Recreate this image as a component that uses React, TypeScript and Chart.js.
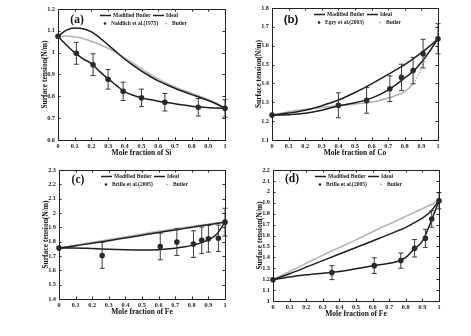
import React, { useEffect, useRef } from "react";
import { Chart, registerables } from "chart.js";
Chart.register(...registerables);

const SERIF = '"Liberation Serif", "Times New Roman", serif';
const SANS = '"Liberation Sans", Arial, sans-serif';
const DARK = "#1e1e1e";
const GRAY = "#b4b4b4";

const xTickValues = [0, 0.1, 0.2, 0.3, 0.4, 0.5, 0.6, 0.7, 0.8, 0.9, 1];
const xTickLabels = ["0", "0.1", "0.2", "0.3", "0.4", "0.5", "0.6", "0.7", "0.8", "0.9", "1"];

// ---- Panel (a): Si ----
const aCurveX = [0, 0.05, 0.1, 0.15, 0.2, 0.25, 0.3, 0.35, 0.4, 0.45, 0.5, 0.55, 0.6, 0.65, 0.7, 0.75, 0.8, 0.85, 0.9, 0.95, 1];
const aModified = [1.075, 1.035, 1.0, 0.972, 0.95, 0.913, 0.88, 0.85, 0.82, 0.805, 0.793, 0.785, 0.778, 0.772, 0.766, 0.76, 0.755, 0.751, 0.748, 0.746, 0.745];
const aIdeal = [1.075, 1.103, 1.113, 1.11, 1.095, 1.068, 1.036, 1.003, 0.97, 0.942, 0.915, 0.892, 0.871, 0.853, 0.837, 0.822, 0.808, 0.795, 0.781, 0.765, 0.745];
const aButler = [1.075, 1.076, 1.073, 1.065, 1.052, 1.037, 1.02, 0.999, 0.976, 0.951, 0.926, 0.902, 0.88, 0.86, 0.843, 0.828, 0.814, 0.8, 0.786, 0.768, 0.745];
const aExpX = [0, 0.11, 0.21, 0.3, 0.39, 0.5, 0.64, 0.84, 1];
const aExpY = [1.075, 0.997, 0.945, 0.878, 0.823, 0.793, 0.773, 0.75, 0.745];
const aExpErr = [0, 0.05, 0.05, 0.045, 0.042, 0.04, 0.04, 0.04, 0.04];
const aYTicks = [0.6, 0.7, 0.8, 0.9, 1, 1.1, 1.2];
const aYLabels = ["0.6", "0.7", "0.8", "0.9", "1", "1.1", "1.2"];

// ---- Panel (b): Co ----
const bCurveX = [0, 0.1, 0.2, 0.3, 0.4, 0.5, 0.6, 0.7, 0.75, 0.8, 0.85, 0.9, 0.95, 1];
const bModified = [1.232, 1.234, 1.242, 1.258, 1.28, 1.297, 1.322, 1.365, 1.395, 1.43, 1.463, 1.512, 1.572, 1.637];
const bIdeal = [1.232, 1.243, 1.258, 1.282, 1.312, 1.352, 1.398, 1.448, 1.474, 1.5, 1.53, 1.563, 1.598, 1.637];
const bButler = [1.232, 1.25, 1.263, 1.273, 1.282, 1.291, 1.301, 1.322, 1.337, 1.357, 1.4, 1.48, 1.57, 1.637];
const bExpX = [0, 0.4, 0.57, 0.71, 0.78, 0.85, 0.91, 1];
const bExpY = [1.232, 1.284, 1.31, 1.372, 1.432, 1.468, 1.558, 1.637];
const bExpErr = [0, 0.066, 0.068, 0.068, 0.07, 0.07, 0.076, 0.08];
const bYTicks = [1.1, 1.2, 1.3, 1.4, 1.5, 1.6, 1.7, 1.8];
const bYLabels = ["1.1", "1.2", "1.3", "1.4", "1.5", "1.6", "1.7", "1.8"];

// ---- Panel (c): Fe ----
const cCurveX = [0, 0.1, 0.2, 0.3, 0.4, 0.5, 0.6, 0.7, 0.75, 0.8, 0.85, 0.9, 0.95, 1];
const cModified = [1.755, 1.756, 1.752, 1.747, 1.743, 1.741, 1.744, 1.754, 1.762, 1.774, 1.79, 1.812, 1.852, 1.936];
const cIdeal = [1.755, 1.772, 1.789, 1.807, 1.826, 1.845, 1.864, 1.882, 1.891, 1.9, 1.909, 1.918, 1.927, 1.936];
const cButler = [1.755, 1.775, 1.795, 1.814, 1.834, 1.853, 1.872, 1.89, 1.898, 1.906, 1.914, 1.922, 1.93, 1.936];
const cExpX = [0, 0.26, 0.61, 0.71, 0.81, 0.86, 0.9, 0.96, 1];
const cExpY = [1.755, 1.704, 1.766, 1.797, 1.783, 1.81, 1.82, 1.824, 1.936];
const cExpErr = [0, 0.09, 0.093, 0.093, 0.093, 0.092, 0.093, 0.092, 0.097];
const cYTicks = [1.4, 1.5, 1.6, 1.7, 1.8, 1.9, 2, 2.1, 2.2, 2.3];
const cYLabels = ["1.4", "1.5", "1.6", "1.7", "1.8", "1.9", "2", "2.1", "2.2", "2.3"];

// ---- Panel (d): Fe ----
const dCurveX = [0, 0.1, 0.2, 0.3, 0.4, 0.5, 0.6, 0.7, 0.75, 0.8, 0.85, 0.9, 0.95, 1];
const dModified = [1.195, 1.22, 1.24, 1.255, 1.27, 1.295, 1.322, 1.345, 1.362, 1.4, 1.475, 1.548, 1.72, 1.919];
const dIdeal = [1.195, 1.25, 1.31, 1.37, 1.43, 1.49, 1.55, 1.61, 1.642, 1.675, 1.715, 1.76, 1.82, 1.919];
const dButler = [1.195, 1.27, 1.345, 1.42, 1.49, 1.56, 1.635, 1.705, 1.74, 1.775, 1.81, 1.845, 1.882, 1.919];
const dExpX = [0, 0.355, 0.61, 0.77, 0.853, 0.918, 0.956, 1];
const dExpY = [1.195, 1.26, 1.324, 1.37, 1.483, 1.574, 1.751, 1.919];
const dExpErr = [0, 0.064, 0.072, 0.07, 0.08, 0.083, 0.075, 0.075];
const dYTicks = [1, 1.1, 1.2, 1.3, 1.4, 1.5, 1.6, 1.7, 1.8, 1.9, 2, 2.1, 2.2];
const dYLabels = ["1", "1.1", "1.2", "1.3", "1.4", "1.5", "1.6", "1.7", "1.8", "1.9", "2", "2.1", "2.2"];

const yTitle = "Surface tension(N/m)";

type Box = { x: number; y: number; w: number; h: number };
type Area = { l: number; t: number; r: number; b: number };
type PanelDef = {
  tag: string;
  tagFont: string;
  tagDy: number;
  expName: string;
  xTitle: string;
  curveX: number[];
  modified: number[];
  ideal: number[];
  butler: number[];
  expX: number[];
  expY: number[];
  expErr: number[];
  yTicks: number[];
  yLabels: string[];
  canvas: Box;
  area: Area;
};

const panels: PanelDef[] = [
  {
    tag: "(a)", tagFont: SERIF, tagDy: 11, expName: "Naidlich et al.(1975)", xTitle: "Mole fraction of Si",
    curveX: aCurveX, modified: aModified, ideal: aIdeal, butler: aButler,
    expX: aExpX, expY: aExpY, expErr: aExpErr, yTicks: aYTicks, yLabels: aYLabels,
    canvas: { x: 0, y: 0, w: 235, h: 168 }, area: { l: 58, t: 9, r: 225, b: 140 },
  },
  {
    tag: "(b)", tagFont: SANS, tagDy: 12, expName: "Egry et al.(2003)", xTitle: "Mole fraction of Co",
    curveX: bCurveX, modified: bModified, ideal: bIdeal, butler: bButler,
    expX: bExpX, expY: bExpY, expErr: bExpErr, yTicks: bYTicks, yLabels: bYLabels,
    canvas: { x: 235, y: 0, w: 236, h: 168 }, area: { l: 272, t: 8, r: 438, b: 140 },
  },
  {
    tag: "(c)", tagFont: SERIF, tagDy: 10, expName: "Brillo et al.(2005)", xTitle: "Mole fraction of Fe",
    curveX: cCurveX, modified: cModified, ideal: cIdeal, butler: cButler,
    expX: cExpX, expY: cExpY, expErr: cExpErr, yTicks: cYTicks, yLabels: cYLabels,
    canvas: { x: 0, y: 160, w: 235, h: 176 }, area: { l: 59, t: 170, r: 225, b: 299 },
  },
  {
    tag: "(d)", tagFont: SERIF, tagDy: 9, expName: "Brillo et al.(2005)", xTitle: "Mole fraction of Fe",
    curveX: dCurveX, modified: dModified, ideal: dIdeal, butler: dButler,
    expX: dExpX, expY: dExpY, expErr: dExpErr, yTicks: dYTicks, yLabels: dYLabels,
    canvas: { x: 235, y: 160, w: 236, h: 176 }, area: { l: 273, t: 170, r: 439, b: 301 },
  },
];

const TITLE_SIZE = 7.5;
const TICK_SIZE = 6.3;
const LEGEND_SIZE = 5.5;

function PanelChart({ p }: { p: PanelDef }) {
  const ref = useRef<HTMLCanvasElement | null>(null);
  useEffect(() => {
    if (!ref.current) return;
    const { canvas: c, area: a } = p;
    const lh = TITLE_SIZE * 1.2;
    const padLeft = a.l - 13 - c.x - lh / 2;
    const yWidth = a.l - c.x - padLeft;
    const padBottom = c.y + c.h - (a.b + 13.5) - lh / 2;
    const xHeight = c.y + c.h - padBottom - a.b;
    const padTop = a.t - c.y;
    const padRight = c.x + c.w - a.r;

    const toXY = (xs: number[], ys: number[]) => xs.map((x, i) => ({ x, y: ys[i] }));
    const errData: { x: number; y: number | null }[] = [];
    p.expX.forEach((x, i) => {
      if (p.expErr[i] > 0) {
        errData.push({ x, y: p.expY[i] - p.expErr[i] });
        errData.push({ x, y: p.expY[i] + p.expErr[i] });
        errData.push({ x, y: null });
      }
    });

    const decor = {
      id: "decor",
      afterDraw(chart: any) {
        const ctx = chart.ctx as CanvasRenderingContext2D;
        const { left: L, top: T, right: R, bottom: B } = chart.chartArea;
        ctx.save();
        ctx.strokeStyle = "#222";
        ctx.lineWidth = 1;
        ctx.strokeRect(Math.round(L) + 0.5, Math.round(T) + 0.5, Math.round(R - L), Math.round(B - T));
        const xs = chart.scales.x;
        const ys = chart.scales.y;
        ctx.beginPath();
        xs.ticks.forEach((t: any) => {
          const px = Math.round(xs.getPixelForValue(t.value)) + 0.5;
          ctx.moveTo(px, B); ctx.lineTo(px, B - 2.5);
          ctx.moveTo(px, T); ctx.lineTo(px, T + 2.5);
        });
        ys.ticks.forEach((t: any) => {
          const py = Math.round(ys.getPixelForValue(t.value)) + 0.5;
          ctx.moveTo(L, py); ctx.lineTo(L + 2.5, py);
          ctx.moveTo(R, py); ctx.lineTo(R - 2.5, py);
        });
        ctx.stroke();

        // panel tag
        ctx.fillStyle = "#111";
        ctx.font = `bold 11.5px ${p.tagFont}`;
        ctx.textAlign = "center";
        ctx.textBaseline = "middle";
        ctx.fillText(p.tag, L + 19, T + p.tagDy);

        // legend
        ctx.font = `bold ${LEGEND_SIZE}px ${SERIF}`;
        ctx.textAlign = "left";
        const r1 = T + 6.5;
        const r2 = T + 14.5;
        ctx.strokeStyle = DARK;
        ctx.lineWidth = 1.3;
        ctx.beginPath();
        ctx.moveTo(L + 42, r1); ctx.lineTo(L + 53, r1);
        ctx.moveTo(L + 95, r1); ctx.lineTo(L + 106, r1);
        ctx.stroke();
        ctx.fillStyle = "#222";
        ctx.fillText("Modified Butler", L + 55, r1);
        ctx.fillText("Ideal", L + 108, r1);
        ctx.beginPath();
        ctx.arc(L + 47, r2, 1.3, 0, Math.PI * 2);
        ctx.fill();
        ctx.fillText(p.expName, L + 53, r2);
        ctx.fillStyle = GRAY;
        ctx.beginPath();
        ctx.arc(L + 108, r2, 1.0, 0, Math.PI * 2);
        ctx.fill();
        ctx.fillStyle = "#222";
        ctx.fillText("Butler", L + 114, r2);
        ctx.restore();
      },
    };

    const chart = new Chart(ref.current, {
      type: "line",
      data: {
        datasets: [
          {
            label: p.expName,
            data: toXY(p.expX, p.expY),
            showLine: false,
            pointRadius: 2.8,
            pointBackgroundColor: "#2a2a2a",
            pointBorderColor: "#2a2a2a",
            pointBorderWidth: 0,
            clip: false,
          },
          {
            label: "error",
            data: errData,
            borderColor: "#3a3a3a",
            borderWidth: 1,
            tension: 0,
            spanGaps: false,
            pointStyle: "line",
            pointRadius: 2.5,
            pointBorderWidth: 1,
            pointBorderColor: "#3a3a3a",
            clip: false,
          },
          {
            label: "Modified Butler",
            data: toXY(p.curveX, p.modified),
            borderColor: DARK,
            borderWidth: 1.5,
            pointRadius: 0,
            cubicInterpolationMode: "monotone",
          },
          {
            label: "Ideal",
            data: toXY(p.curveX, p.ideal),
            borderColor: DARK,
            borderWidth: 1.5,
            pointRadius: 0,
            cubicInterpolationMode: "monotone",
          },
          {
            label: "Butler",
            data: toXY(p.curveX, p.butler),
            borderColor: GRAY,
            borderWidth: 1.6,
            pointRadius: 0,
            cubicInterpolationMode: "monotone",
            segment: {
              borderDash: (s: any) => {
                const dx = Math.abs(s.p1.x - s.p0.x);
                const dy = Math.abs(s.p1.y - s.p0.y);
                return dy > 1.6 * dx ? [1.5, 1.5] : undefined;
              },
            },
          },
        ] as any,
      },
      options: {
        responsive: false,
        animation: false,
        devicePixelRatio: 1,
        layout: { padding: { left: padLeft, right: padRight, top: padTop, bottom: padBottom } },
        plugins: { legend: { display: false }, tooltip: { enabled: false } },
        scales: {
          x: {
            type: "linear",
            min: 0,
            max: 1,
            grid: { display: false, drawTicks: false, tickLength: 0 },
            border: { display: false },
            afterBuildTicks: (s: any) => { s.ticks = xTickValues.map((v) => ({ value: v })); },
            afterFit: (s: any) => { s.height = xHeight; },
            ticks: {
              autoSkip: false,
              maxRotation: 0,
              minRotation: 0,
              padding: 3,
              color: "#222",
              font: { family: SERIF, size: TICK_SIZE, weight: "bold" },
              callback: (_v: any, i: number) => xTickLabels[i],
            },
            title: {
              display: true,
              text: p.xTitle,
              color: "#111",
              padding: 0,
              font: { family: SERIF, size: TITLE_SIZE, weight: "bold" },
            },
          },
          y: {
            type: "linear",
            min: p.yTicks[0],
            max: p.yTicks[p.yTicks.length - 1],
            grid: { display: false, drawTicks: false, tickLength: 0 },
            border: { display: false },
            afterBuildTicks: (s: any) => { s.ticks = p.yTicks.map((v) => ({ value: v })); },
            afterFit: (s: any) => { s.width = yWidth; },
            ticks: {
              autoSkip: false,
              padding: 3,
              color: "#222",
              font: { family: SERIF, size: TICK_SIZE, weight: "bold" },
              callback: (_v: any, i: number) => p.yLabels[i],
            },
            title: {
              display: true,
              text: yTitle,
              color: "#111",
              padding: 0,
              font: { family: SERIF, size: TITLE_SIZE, weight: "bold" },
            },
          },
        },
      } as any,
      plugins: [decor],
    });
    return () => chart.destroy();
  }, [p]);
  const c = p.canvas;
  return (
    <canvas
      ref={ref}
      width={c.w}
      height={c.h}
      style={{ position: "absolute", left: c.x, top: c.y, width: c.w, height: c.h }}
    />
  );
}

export default function App() {
  return (
    <div style={{ position: "fixed", left: 0, top: 0, width: 471, height: 336, background: "#fff", overflow: "hidden" }}>
      {panels.map((p) => (
        <PanelChart key={p.tag} p={p} />
      ))}
    </div>
  );
}
